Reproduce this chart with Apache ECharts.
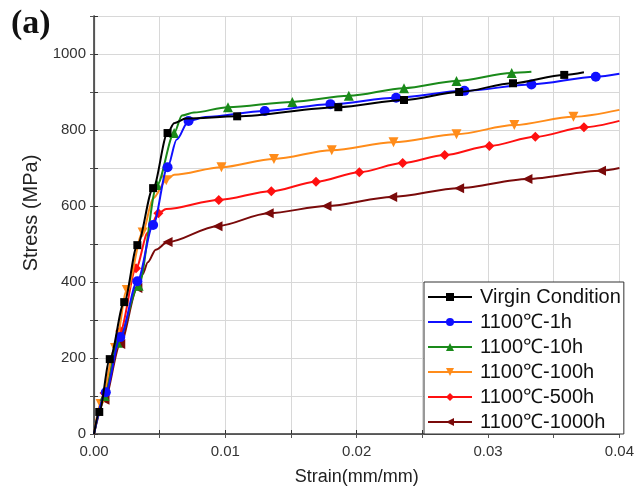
<!DOCTYPE html>
<html>
<head>
<meta charset="utf-8">
<script src="https://cdn.jsdelivr.net/npm/echarts@6/dist/echarts.min.js"></script>
<style>
html,body{margin:0;padding:0;background:#fff;}
#chart{width:637px;height:492px;}
</style>
</head>
<body>
<div id="chart"></div>
<script>
// ---- data (strain mm/mm, stress MPa) ----
const seriesNames = ['Virgin Condition','1100℃-1h','1100℃-10h','1100℃-100h','1100℃-500h','1100℃-1000h'];

// marked points (shown with symbols)
const virginMarks = [[0.0004,58],[0.0012,197],[0.0023,347],[0.0033,497],[0.0045,647],[0.0056,792],[0.0109,836],[0.0186,860],[0.0236,879],[0.0278,900],[0.0319,923],[0.0358,945]];
const h1Marks     = [[0.0009,110],[0.0020,255],[0.0033,402],[0.0045,550],[0.0056,702],[0.0072,824],[0.0130,850],[0.0180,868],[0.0230,885],[0.0282,903],[0.0333,920],[0.0382,940]];
const h10Marks    = [[0.0008,100],[0.0018,240],[0.0034,390],[0.0048,655],[0.0061,792],[0.0102,860],[0.0151,874],[0.0194,890],[0.0236,910],[0.0276,929],[0.0318,950]];
const h100Marks   = [[0.0005,79],[0.0016,226],[0.0025,379],[0.0037,530],[0.0055,668],[0.0097,702],[0.0137,724],[0.0181,747],[0.0228,768],[0.0276,789],[0.0320,813],[0.0365,835]];
const h500Marks   = [[0.0008,108],[0.0020,271],[0.0032,436],[0.0049,581],[0.0095,616],[0.0135,639],[0.0169,664],[0.0202,689],[0.0235,713],[0.0267,734],[0.0301,758],[0.0336,782],[0.0373,807]];
const h1000Marks  = [[0.0008,90],[0.0020,237],[0.0033,384],[0.0056,505],[0.0094,547],[0.0133,581],[0.0177,600],[0.0227,624],[0.0278,647],[0.0330,671],[0.0386,693]];

// unmarked shape points along each curve
const virginKnots = [[0,0],[0.0061,818],[0.0070,830],[0.0373,952]];
const h1Knots     = [[0,0],[0.0063,775],[0.0085,834],[0.0400,948]];
const h10Knots    = [[0,0],[0.0067,838],[0.0076,846],[0.0333,953]];
const h100Knots   = [[0,0],[0.0045,620],[0.0061,682],[0.0400,853]];
const h500Knots   = [[0,0],[0.0041,530],[0.0055,592],[0.0400,824]];
const h1000Knots  = [[0,0],[0.0037,420],[0.0041,452],[0.0047,485],[0.0400,700]];

const yTicks = [0,200,400,600,800,1000];
const xTicks = ['0.00','0.01','0.02','0.03','0.04'];

const colors = ['#000000','#1010ff','#1a8a1a','#ff8c1a','#ff1010','#7a0a0a'];
const symbols = ['rect','circle','triangle','triangle','diamond','triangle'];
const rotates = [0,0,0,180,0,90];
const sizes = [8,10,10,10,10,10];

const marksAll = [virginMarks,h1Marks,h10Marks,h100Marks,h500Marks,h1000Marks];
const knotsAll = [virginKnots,h1Knots,h10Knots,h100Knots,h500Knots,h1000Knots];

function build(marks, knots){
  const a = marks.map(p=>({value:p}));
  const b = knots.map(p=>({value:p, symbol:'none'}));
  return a.concat(b).sort((u,v)=>u.value[0]-v.value[0]);
}

const chart = echarts.init(document.getElementById('chart'));
const font = 'Arial, "Liberation Sans", sans-serif';

const series = seriesNames.map((n,i)=>({
  name:n, type:'line', data: build(marksAll[i], knotsAll[i]),
  smooth:0.3, smoothMonotone:'x',
  symbol:symbols[i], symbolSize:sizes[i], symbolRotate:rotates[i],
  showAllSymbol:true,
  lineStyle:{color:colors[i], width:2},
  itemStyle:{color:colors[i]},
  z: 10 - i,
  clip:true
}));

const option = {
  animation:false,
  backgroundColor:'#fff',
  graphic:[{type:'text', left:11, top:7, style:{text:'(a)', font:'bold 34px "Liberation Serif", "Times New Roman", serif', fill:'#111'}}],
  grid:{left:94, right:14, top:16, bottom:58},
  legend:{
    orient:'vertical', left:424, top:282,
    backgroundColor:'#fff', borderColor:'#333', borderWidth:1, borderRadius:0,
    padding:[5,3,2,3], itemGap:5, itemWidth:44, itemHeight:10,
    textStyle:{fontFamily:font, fontSize:20, lineHeight:20, color:'#111', padding:[0,0,0,3]},
    data: seriesNames
  },
  xAxis:[{
    type:'value', min:0, max:0.04, interval:0.005,
    name:'Strain(mm/mm)', nameLocation:'middle', nameGap:34,
    nameTextStyle:{fontFamily:font, fontSize:18, color:'#222'},
    axisLine:{show:true, lineStyle:{color:'#333', width:1.5}},
    axisTick:{show:true, inside:true, length:4, lineStyle:{color:'#333'}},
    axisLabel:{fontFamily:font, fontSize:15, color:'#333', margin:10,
      formatter:v=>{const k=Math.round(v*1000); return k%10===0 ? xTicks[k/10] : '';}},
    splitLine:{show:true, lineStyle:{color:'#d8d8d8', width:1}}
  },{
    type:'value', min:0, max:0.04, interval:0.005, position:'top',
    axisLine:{show:true, lineStyle:{color:'#555', width:1.2}},
    axisTick:{show:true, inside:true, length:4, lineStyle:{color:'#555'}},
    axisLabel:{show:false}, splitLine:{show:false}
  }],
  yAxis:[{
    type:'value', min:0, max:1100, interval:100,
    name:'Stress (MPa)', nameLocation:'middle', nameGap:50, nameRotate:90,
    nameTextStyle:{fontFamily:font, fontSize:20, color:'#222', padding:[0,0,0,24]},
    axisLine:{show:true, lineStyle:{color:'#333', width:1.5}},
    axisTick:{show:true, inside:true, length:4, lineStyle:{color:'#333'}},
    axisLabel:{fontFamily:font, fontSize:15, color:'#333', margin:8,
      formatter:v=>{const k=Math.round(v); return yTicks.indexOf(k)>=0 ? String(k) : '';}},
    splitLine:{show:true, lineStyle:{color:'#d8d8d8', width:1}}
  },{
    type:'value', min:0, max:1100, interval:100, position:'right',
    axisLine:{show:true, lineStyle:{color:'#555', width:1.2}},
    axisTick:{show:true, inside:true, length:4, lineStyle:{color:'#555'}},
    axisLabel:{show:false}, splitLine:{show:false}
  }],
  series: series
};
chart.setOption(option);
</script>
</body>
</html>
